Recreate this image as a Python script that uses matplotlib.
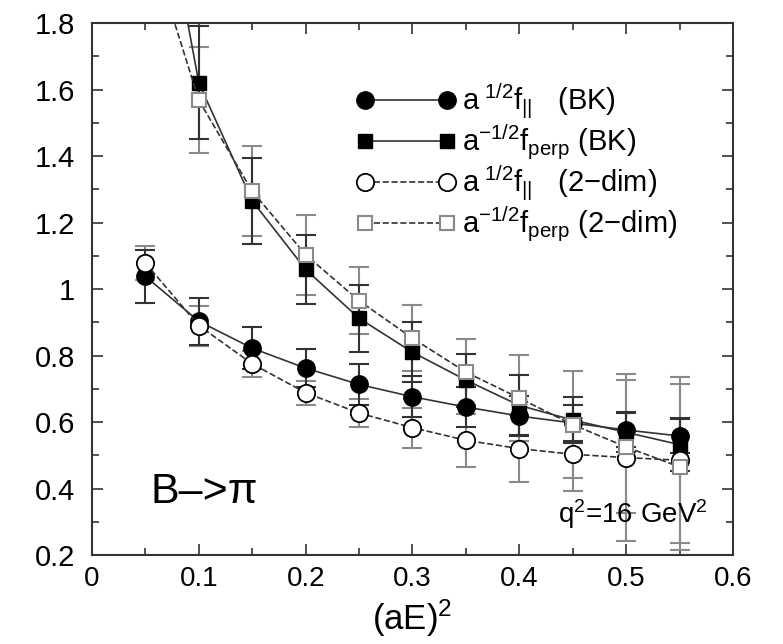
#!/usr/bin/env python3
import numpy as np
import matplotlib.pyplot as plt
import matplotlib

matplotlib.rcParams['font.family'] = ['Liberation Sans', 'DejaVu Sans']
matplotlib.rcParams['mathtext.fontset'] = 'custom'
matplotlib.rcParams['mathtext.rm'] = 'Liberation Sans'
matplotlib.rcParams['mathtext.it'] = 'Liberation Sans'

# Data
x = [0.05, 0.1, 0.15, 0.2, 0.25, 0.3, 0.35, 0.4, 0.45, 0.5, 0.55]

f_par_bk = [1.038, 0.903, 0.822, 0.762, 0.713, 0.676, 0.645, 0.618, 0.597, 0.576, 0.558]
f_par_bk_err = [0.08, 0.07, 0.063, 0.058, 0.062, 0.062, 0.06, 0.06, 0.055, 0.05, 0.05]

f_perp_bk = [2.49, 1.620, 1.265, 1.059, 0.912, 0.81, 0.726, 0.65, 0.606, 0.569, 0.532]
f_perp_bk_err = [0.3, 0.17, 0.13, 0.104, 0.1, 0.09, 0.08, 0.09, 0.07, 0.06, 0.08]

f_par_2d = [1.078, 0.89, 0.775, 0.688, 0.627, 0.583, 0.545, 0.52, 0.503, 0.493, 0.485]
f_par_2d_err = [0.05, 0.06, 0.04, 0.036, 0.042, 0.06, 0.08, 0.1, 0.11, 0.25, 0.25]

f_perp_2d = [2.08, 1.568, 1.294, 1.103, 0.965, 0.852, 0.750, 0.672, 0.592, 0.525, 0.465]
f_perp_2d_err = [0.2, 0.16, 0.135, 0.12, 0.1, 0.1, 0.1, 0.13, 0.16, 0.2, 0.25]

fig = plt.figure(figsize=(7.83, 6.44), dpi=100)
ax = fig.add_axes([0.1175, 0.1382, 0.8186, 0.826])

grey = '#8a8a8a'
dark = '#333333'

# error bars: 2-dim in grey behind, BK in dark
ax.errorbar(x, f_perp_2d, yerr=f_perp_2d_err, fmt='none', ecolor=grey, elinewidth=1.5, capsize=7, capthick=1.5)
ax.errorbar(x, f_par_2d, yerr=f_par_2d_err, fmt='none', ecolor=grey, elinewidth=1.5, capsize=7, capthick=1.5)
ax.errorbar(x, f_perp_bk, yerr=f_perp_bk_err, fmt='none', ecolor=dark, elinewidth=1.5, capsize=7, capthick=1.5)
ax.errorbar(x, f_par_bk, yerr=f_par_bk_err, fmt='none', ecolor=dark, elinewidth=1.5, capsize=7, capthick=1.5)

ax.plot(x, f_par_bk, '-', color=dark, lw=1.2, marker='o', markersize=12.5,
        mfc='black', mec='black', label=r'a$^{\ 1/2}$f$_{||}$   (BK)')
ax.plot(x, f_perp_bk, '-', color=dark, lw=1.2, marker='s', markersize=9.5,
        mfc='black', mec='black', label=r'a$^{-1/2}$f$_{perp}$ (BK)')
ax.plot(x, f_par_2d, '--', color=dark, lw=1.2, marker='o', markersize=12.5,
        mfc='white', mec='black', mew=1.3, label=r'a$^{\ 1/2}$f$_{||}$   (2$-$dim)')
ax.plot(x, f_perp_2d, '--', color=dark, lw=1.2, marker='s', markersize=9.5,
        mfc='white', mec=grey, mew=1.5, label=r'a$^{-1/2}$f$_{perp}$ (2$-$dim)')

ax.set_xlim(0, 0.6)
ax.set_ylim(0.2, 1.8)
ax.set_xticks(np.arange(0, 0.61, 0.1))
ax.set_xticklabels(['0', '0.1', '0.2', '0.3', '0.4', '0.5', '0.6'])
ax.set_xticks(np.arange(0.05, 0.6, 0.1), minor=True)
ax.set_yticks(np.arange(0.2, 1.81, 0.2))
ax.set_yticklabels(['0.2', '0.4', '0.6', '0.8', '1', '1.2', '1.4', '1.6', '1.8'])
ax.set_yticks(np.arange(0.3, 1.8, 0.2), minor=True)

ax.tick_params(axis='both', which='major', direction='in', top=True, right=True,
               length=8, width=1.2, colors=dark, labelcolor='black')
ax.tick_params(axis='y', which='major', labelsize=21, pad=12)
ax.tick_params(axis='x', which='major', labelsize=20, pad=8)
ax.tick_params(axis='both', which='minor', direction='in', top=True, right=True,
               length=5, width=1.2, colors=dark)
for s in ax.spines.values():
    s.set_linewidth(1.5)
    s.set_color(dark)

ax.set_xlabel(r'(aE)$^2$', fontsize=25, labelpad=4)

ax.text(0.055, 0.355, 'B\u2013>\u03c0', fontsize=31)
ax.text(0.96, 0.06, r'q$^2$=16 GeV$^2$', fontsize=20, ha='right', va='baseline', transform=ax.transAxes)

legend = ax.legend(loc='upper left', bbox_to_anchor=(0.413, 0.89), fontsize=21, frameon=False,
                   numpoints=2, handlelength=3.4, handletextpad=0.2, labelspacing=0.07,
                   borderpad=0, borderaxespad=0)

fig.savefig('out.png', dpi=100)
